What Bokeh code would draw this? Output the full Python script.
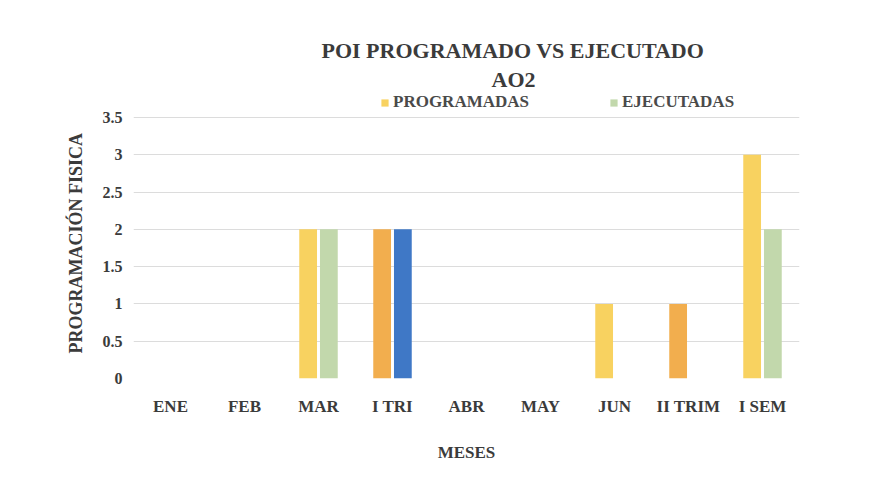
from bokeh.plotting import figure
from bokeh.models import ColumnDataSource, Legend, LegendItem, FixedTicker, Title
from bokeh.transform import dodge
from bokeh.embed import file_html
from bokeh.resources import INLINE

categories = ["ENE", "FEB", "MAR", "I TRI", "ABR", "MAY", "JUN", "II TRIM", "I SEM"]
programadas = [0, 0, 2, 2, 0, 0, 1, 1, 3]
ejecutadas = [0, 0, 2, 2, 0, 0, 0, 0, 2]
y_ticks = [0, 0.5, 1, 1.5, 2, 2.5, 3, 3.5]
y_tick_labels = ["0", "0.5", "1", "1.5", "2", "2.5", "3", "3.5"]
title_main = "POI PROGRAMADO VS EJECUTADO"
title_sub = "AO2"

YELLOW = "#F8D260"
GREEN = "#C2D8AC"
ORANGE = "#F2AE4E"
BLUE = "#3F78C6"
prog_colors = [ORANGE if c in ("I TRI", "II TRIM") else YELLOW for c in categories]
ejec_colors = [BLUE if c == "I TRI" else GREEN for c in categories]

src = ColumnDataSource(dict(cat=categories, prog=programadas, ejec=ejecutadas,
                            pc=prog_colors, ec=ejec_colors))

FONT = "Liberation Serif"
SERIF = "serif"
TXT = "#3b3b3b"

FRAME_TOP, FRAME_BOTTOM = 92, 378
PX_PER_UNIT = 261 / 3.5
y_top = (FRAME_BOTTOM - FRAME_TOP) / PX_PER_UNIT

p = figure(x_range=categories, y_range=(0, y_top), width=870, height=472, title=None,
           output_backend="svg", toolbar_location=None,
           min_border_left=133, min_border_right=71,
           min_border_top=FRAME_TOP, min_border_bottom=472 - FRAME_BOTTOM)
p.x_range.range_padding = 0
p.background_fill_color = "white"
p.border_fill_color = "white"
p.outline_line_color = None

r1 = p.vbar(x=dodge("cat", -0.14, range=p.x_range), top="prog", width=0.24, bottom=0,
            source=src, fill_color="pc", line_color=None)
r2 = p.vbar(x=dodge("cat", 0.14, range=p.x_range), top="ejec", width=0.24, bottom=0,
            source=src, fill_color="ec", line_color=None)

p.yaxis.ticker = FixedTicker(ticks=y_ticks)
p.yaxis.major_label_overrides = {t: l for t, l in zip(y_ticks, y_tick_labels)}
p.ygrid.ticker = FixedTicker(ticks=y_ticks)
p.ygrid.grid_line_color = "#dcdcdc"
p.xgrid.grid_line_color = None

for ax in (p.xaxis[0], p.yaxis[0]):
    ax.axis_line_color = None
    ax.major_tick_line_color = None
    ax.minor_tick_line_color = None
    ax.major_label_text_font = FONT
    ax.major_label_text_font_style = "bold"
    ax.major_label_text_color = TXT
    ax.axis_label_text_font = FONT
    ax.axis_label_text_font_style = "bold"
    ax.axis_label_text_color = TXT

p.yaxis.major_label_text_font_size = "16px"
p.yaxis.major_label_standoff = 5

p.xaxis.major_label_text_font_size = "17px"
p.xaxis.major_label_standoff = 12
p.xaxis.axis_label = "MESES"
p.xaxis.axis_label_text_font_size = "17px"
p.xaxis.axis_label_standoff = 24

p.add_layout(Title(text="PROGRAMACIÓN FISICA", align="left", offset=25, standoff=28,
                   text_font=SERIF, text_font_size="18px", text_font_style="bold",
                   text_color=TXT), "left")

# two title lines stacked above the frame (first added sits closest to the plot)
p.add_layout(Title(text=title_sub, align="left", offset=358, standoff=2,
                   text_font=SERIF, text_font_size="22px", text_font_style="bold",
                   text_color=TXT), "above")
p.add_layout(Title(text=title_main, align="left", offset=188, standoff=2,
                   text_font=SERIF, text_font_size="22px", text_font_style="bold",
                   text_color=TXT), "above")

legend = Legend(items=[LegendItem(label="PROGRAMADAS", renderers=[r1]),
                       LegendItem(label="EJECUTADAS", renderers=[r2])],
                orientation="horizontal", location=(247, FRAME_BOTTOM - 112),
                glyph_width=9, glyph_height=9, label_standoff=4, spacing=80,
                label_height=20, padding=0, margin=0,
                border_line_color=None, background_fill_alpha=0,
                label_text_font=SERIF, label_text_font_style="bold",
                label_text_font_size="17px", label_text_color="#4a4a4a")
p.add_layout(legend, "center")

open("out.html", "w").write(file_html(p, INLINE))
